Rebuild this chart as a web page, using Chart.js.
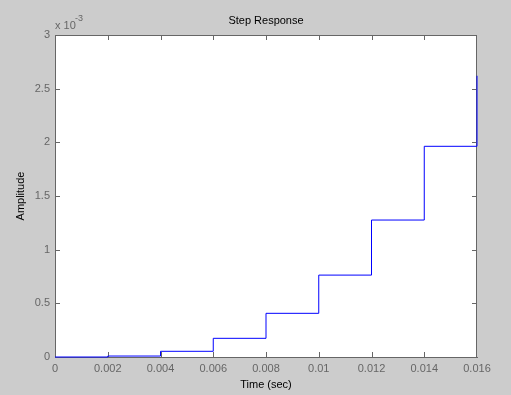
<!DOCTYPE html>
<html>
<head>
<meta charset="utf-8">
<script src="https://cdn.jsdelivr.net/npm/chart.js@4.4.1/dist/chart.umd.min.js"></script>
<style>
  html, body { margin: 0; padding: 0; background: #cccccc; }
  #wrap { width: 511px; height: 395px; }
</style>
</head>
<body>
<div id="wrap"><canvas id="stepChart"></canvas></div>
<script>
// Step response (amplitude in units of 1e-3)
const times = [0, 0.002, 0.004, 0.006, 0.008, 0.01, 0.012, 0.014, 0.016];
const amplitude = [0, 0.009, 0.053, 0.174, 0.407, 0.763, 1.276, 1.963, 2.62];
const xTicks = [0, 0.002, 0.004, 0.006, 0.008, 0.01, 0.012, 0.014, 0.016];
const yTicks = [0, 0.5, 1, 1.5, 2, 2.5, 3];

const axisGrey = '#666666';
const font = 'Liberation Sans';

// fondo blanco, marco y ticks interiores al estilo matlab
const matlabFrame = {
    id: 'matlabFrame',
    beforeDatasetsDraw(chart) {
        const { ctx, chartArea: a, scales } = chart;
        ctx.save();
        ctx.fillStyle = '#ffffff';
        ctx.fillRect(a.left, a.top, a.right - a.left, a.bottom - a.top);
        ctx.strokeStyle = axisGrey;
        ctx.lineWidth = 1;
        ctx.beginPath();
        xTicks.slice(1, -1).forEach(t => {
            const px = Math.round(scales.x.getPixelForValue(t)) + 0.5;
            ctx.moveTo(px, a.bottom); ctx.lineTo(px, a.bottom - 5);
            ctx.moveTo(px, a.top); ctx.lineTo(px, a.top + 5);
        });
        yTicks.slice(1, -1).forEach(t => {
            const py = Math.round(scales.y.getPixelForValue(t)) + 0.5;
            ctx.moveTo(a.left, py); ctx.lineTo(a.left + 5, py);
            ctx.moveTo(a.right, py); ctx.lineTo(a.right - 5, py);
        });
        ctx.stroke();
        ctx.strokeRect(Math.round(a.left) + 0.5, Math.round(a.top) + 0.5,
            Math.round(a.right - a.left) - 1, Math.round(a.bottom - a.top));
        ctx.restore();
    },
    afterDatasetsDraw(chart) {
        const { ctx, chartArea: a } = chart;
        ctx.save();
        ctx.fillStyle = '#000000';
        ctx.font = '11px "' + font + '"';
        ctx.textAlign = 'center';
        ctx.textBaseline = 'middle';
        ctx.fillText('Step Response', (a.left + a.right) / 2, 21);
        ctx.fillText('Time (sec)', (a.left + a.right) / 2, 385);
        ctx.save();
        ctx.translate(21, (a.top + a.bottom) / 2);
        ctx.rotate(-Math.PI / 2);
        ctx.fillText('Amplitude', 0, 0);
        ctx.restore();

        ctx.fillStyle = axisGrey;
        ctx.textAlign = 'left';
        ctx.font = '11px "' + font + '"';
        ctx.fillText('x 10', 55, 26);
        ctx.font = '9px "' + font + '"';
        ctx.fillText('-3', 75, 19);
        ctx.restore();
    }
};

const ctx = document.getElementById('stepChart').getContext('2d');
new Chart(ctx, {
    type: 'line',
    data: {
        datasets: [{
            label: 'Step Response',
            data: times.map((t, i) => ({ x: t, y: amplitude[i] })),
            stepped: 'before',
            borderColor: '#0000ff',
            borderWidth: 1,
            pointRadius: 0,
            fill: false,
            clip: 2
        }]
    },
    options: {
        responsive: true,
        maintainAspectRatio: false,
        animation: false,
        layout: { padding: { top: 35, right: 34, left: 0, bottom: 0 } },
        plugins: { legend: { display: false }, tooltip: { enabled: false } },
        scales: {
            x: {
                type: 'linear',
                min: 0,
                max: 0.016,
                afterBuildTicks: s => { s.ticks = xTicks.map(v => ({ value: v })); },
                afterFit: s => { s.height = 38; },
                grid: { drawOnChartArea: false, drawTicks: false },
                border: { color: axisGrey },
                ticks: {
                    color: axisGrey,
                    font: { family: font, size: 11 },
                    padding: 5,
                    maxRotation: 0,
                    autoSkip: false,
                    callback: v => String(Number(v.toFixed(3)))
                }
            },
            y: {
                min: 0,
                max: 3,
                afterBuildTicks: s => { s.ticks = yTicks.map(v => ({ value: v })); },
                afterFit: s => { s.width = 55; },
                grid: { drawOnChartArea: false, drawTicks: false },
                border: { color: axisGrey },
                ticks: {
                    color: axisGrey,
                    font: { family: font, size: 11 },
                    padding: 5,
                    callback: v => String(v)
                }
            }
        }
    },
    plugins: [matlabFrame]
});
</script>
</body>
</html>
